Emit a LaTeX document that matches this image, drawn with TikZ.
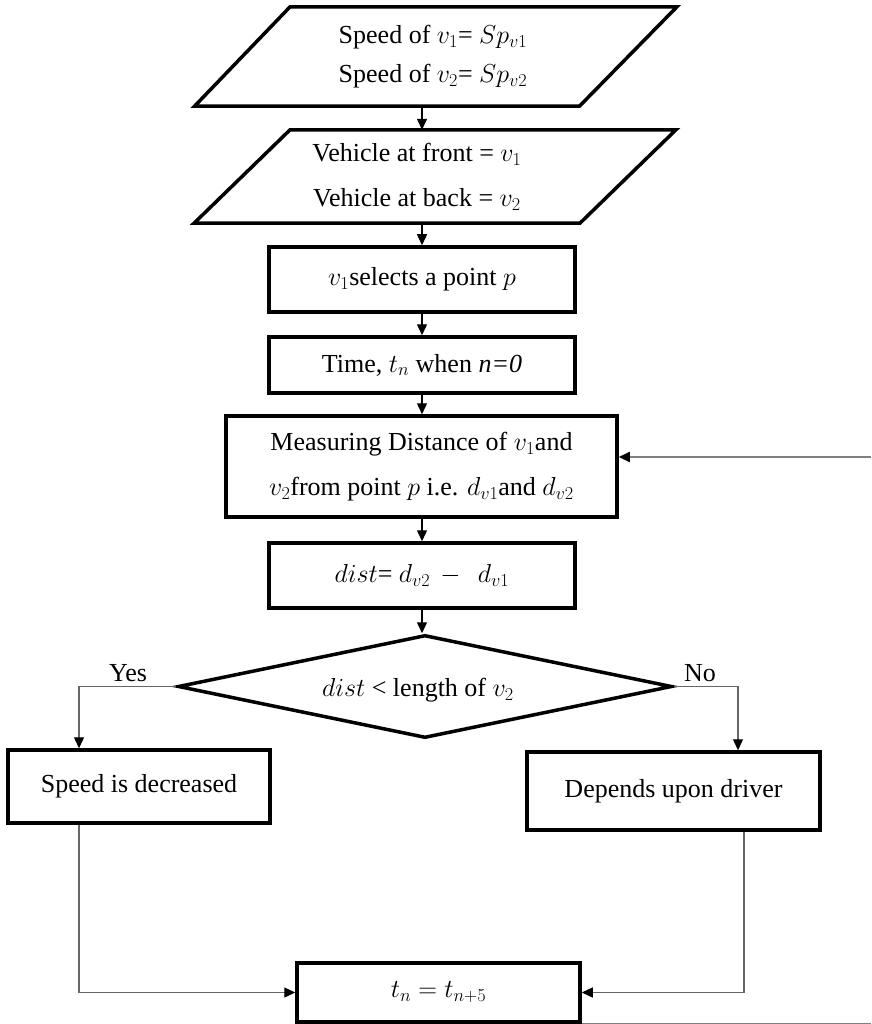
\documentclass[tikz,border=0pt]{standalone}
\usepackage{fix-cm}
\usepackage{fontspec}
\setmainfont{Liberation Serif}
\usetikzlibrary{arrows.meta,shapes.geometric}

\begin{document}
\begin{tikzpicture}[x=1pt,y=-1pt,
  font=\fontsize{26}{31}\selectfont,
  tip/.style={-{Triangle[length=11pt,width=10pt,color=black]}},
  procbox/.style={draw, rectangle, line width=3.5pt, inner sep=0pt, align=center},
  iobox/.style={rectangle, inner sep=0pt, align=center},
  iooutline/.style={line width=3.5pt, line join=miter},
  decbox/.style={draw, diamond, line width=3.5pt, inner sep=0pt},
  flow/.style={tip, line width=1.4pt, draw=black},
  branch/.style={tip, line width=1.3pt, draw=black!60},
  loopline/.style={line width=2.2pt, draw=black!50},
  lbl/.style={inner sep=0pt}
]
\useasboundingbox (0,0) rectangle (871,1024);

% input blocks (parallelograms drawn around their text nodes)
\node[iobox, minimum width=385.5, minimum height=99] (spd) at (433,56.5)
  {Speed of $v_1$= $Sp_{v1}$\\[8pt]Speed of $v_2$= $Sp_{v2}$};
\draw[iooutline] ([xshift=50pt]spd.north west) -- ([xshift=51pt]spd.north east)
  -- ([xshift=-46.5pt]spd.south east) -- ([xshift=-45.5pt]spd.south west) -- cycle;

\node[iobox, minimum width=385.5, minimum height=93] (veh) at (417,176.5)
  {Vehicle at front = $v_1$\\[14pt]Vehicle at back = $v_2$};
\draw[iooutline] ([xshift=66pt]veh.north west) -- ([xshift=66pt]veh.north east)
  -- ([xshift=-30pt]veh.south east) -- ([xshift=-30pt]veh.south west) -- cycle;

% process steps
\node[procbox, minimum width=306, minimum height=65] (sel) at (422,279.5)
  {$v_1$selects a point $p$};
\node[procbox, minimum width=306, minimum height=56] (tim) at (422,365)
  {Time, $t_n$ when \textit{n=0}};
\node[procbox, minimum width=391, minimum height=101] (meas) at (421.5,466.5)
  {Measuring Distance of $v_1$and\\[14pt]$v_2$from point $p$ i.e. $d_{v1}$and $d_{v2}$};
\node[procbox, minimum width=306, minimum height=65] (dst) at (422,575.5)
  {$dist$= $d_{v2}\,-\;\,d_{v1}$};

% decision
\node[decbox, minimum width=494, minimum height=103] (cond) at (425,686.5) {};
\node[lbl] (condt) at (418,690) {$dist$ < length of $v_2$};

\node[procbox, minimum width=262, minimum height=73] (dec) at (139,786.5)
  {Speed is decreased};
\node[procbox, minimum width=293, minimum height=78] (drv) at (673.5,791)
  {Depends upon driver};
\node[procbox, minimum width=283, minimum height=59] (upd) at (438.5,992.5)
  {$t_n = t_{n+5}$};

% main flow
\draw[flow] (spd.south -| sel.north) -- (veh.north -| sel.north);
\draw[flow] (veh.south -| sel.north) -- (sel.north);
\draw[flow] (sel.south) -- (tim.north);
\draw[flow] (tim.south) -- (meas.north -| tim.south);
\draw[flow] (meas.south -| dst.north) -- (dst.north);
\draw[flow] (dst.south) -- (cond.north -| dst.south);

% branches
\coordinate (yesc) at (79,686.5);
\coordinate (noc) at (738,686.5);
\coordinate (drvdrop) at (744,0);
\draw[branch] (cond.west) -- (yesc) -- (yesc |- dec.north);
\draw[branch] (cond.east) -- (noc) -- (noc |- drv.north);
\node[lbl] (yes) at (128,673) {Yes};
\node[lbl] (no) at (700,673) {No};

\draw[branch] (dec.south -| yesc) |- (upd.west);
\draw[branch] (drv.south -| drvdrop) |- (upd.east);

% loop back to the measuring step
\coordinate (loopout) at (871,1021);
\coordinate (loopin) at (871,457);
\draw[loopline] (upd.south east) -- (upd.south east -| loopout);
\draw[loopline, tip] (loopin) -- (loopin -| meas.east);
\end{tikzpicture}
\end{document}
